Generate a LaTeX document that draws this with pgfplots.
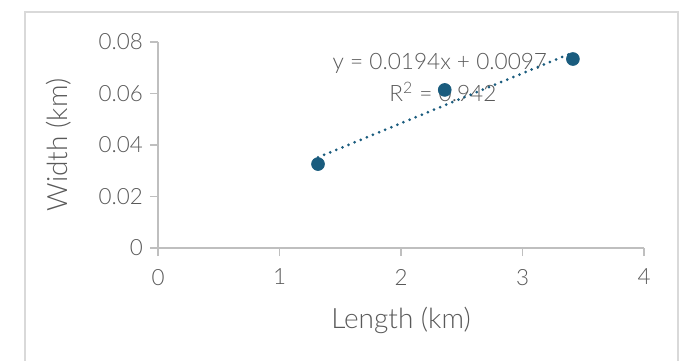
\documentclass[border=0pt]{standalone}
\usepackage{fontspec}
\setmainfont{Lato Light}
\usepackage{pgfplots}
\pgfplotsset{compat=1.18}
\definecolor{txt}{RGB}{89,89,89}
\definecolor{axc}{RGB}{191,191,191}
\definecolor{frm}{RGB}{217,217,217}
\definecolor{mk}{RGB}{26,92,126}
\begin{document}
\begin{tikzpicture}
\useasboundingbox (0,0) rectangle (340pt,180pt);
\draw[frm, line width=0.8pt] (12.5pt,-5pt) rectangle (339pt,174pt);
\begin{axis}[
  at={(79pt,56pt)}, anchor=south west,
  scale only axis, width=243pt, height=103pt,
  xmin=0, xmax=4, ymin=0, ymax=0.08,
  axis lines*=left,
  axis line style={axc, line width=0.75pt},
  tick style={axc, line width=0.75pt},
  tick align=outside, major tick length=4pt,
  xtick={0,1,2,3,4}, ytick={0,0.02,0.04,0.06,0.08},
  scaled y ticks=false,
  /pgf/number format/assume math mode=true,
  ticklabel style={font=\fontsize{11.2}{13}\selectfont, text=txt},
  xticklabel shift=3pt,
  yticklabels={0,0.02,0.04,0.06,0.08},
  xlabel={Length (km)}, ylabel={Width (km)},
  label style={font=\fontsize{14}{16}\selectfont, text=txt},
  xlabel shift=4pt, ylabel shift=7pt,
  clip=false,
]
\node[font=\fontsize{11.3}{13}\selectfont, text=txt] at (axis cs:2.32,0.0718) {y = 0.0194x + 0.0097};
\node[font=\fontsize{11.3}{13}\selectfont, text=txt] at (axis cs:2.345,0.0606) {R\textsuperscript{2} = 0.942};
\addplot[mk, line width=1.5pt, line cap=round, dash pattern=on 0pt off 3.3pt] coordinates {(1.317,0.0352) (3.415,0.0759)};
\addplot[only marks, mark=*, mark size=3.2pt, mk, mark options={fill=mk, draw=mk}] coordinates {(1.317,0.0326) (2.36,0.0614) (3.415,0.0734)};
\end{axis}
\end{tikzpicture}
\end{document}
